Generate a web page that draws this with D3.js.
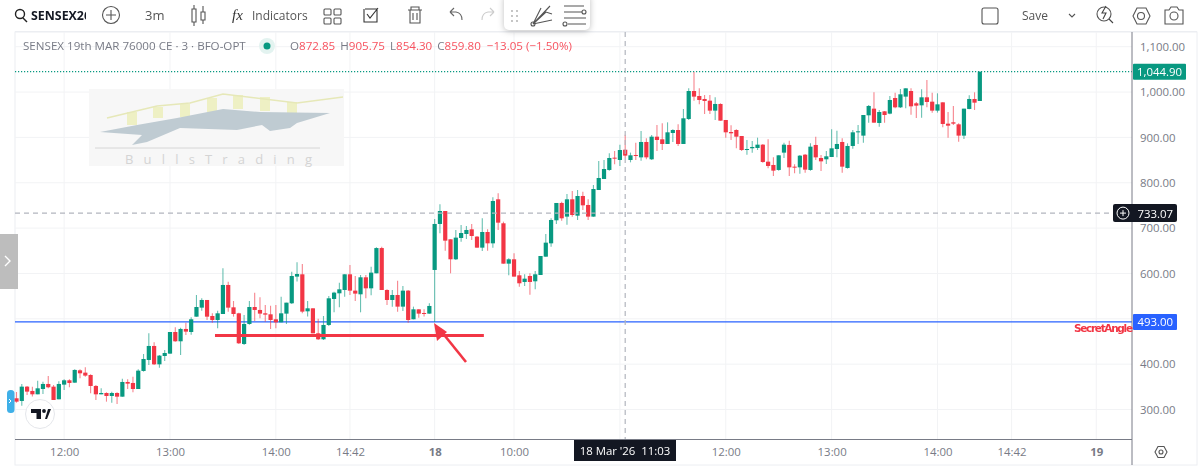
<!DOCTYPE html>
<html>
<head>
<meta charset="utf-8">
<style>
  html, body { margin: 0; padding: 0; background: #fff; }
  svg { display: block; font-family: "Open Sans", sans-serif; filter: blur(0.3px); }
  .tick line { stroke: none; }
  .axis path { display: none; }
  .axis text { fill: #787b86; font-size: 11.4px; font-family: "Open Sans", sans-serif; }
</style>
</head>
<body>
<svg id="chart" width="1200" height="473"></svg>
<script src="https://cdn.jsdelivr.net/npm/d3@7"></script>
<script>
const opens = [324.7,318.8,350.4,340.9,333.5,345.2,356.3,350.4,322.5,354.8,364.4,359.2,386.4,381.3,376.1,351.9,333.5,336.4,329.8,336.4,328.3,360.7,358.5,345.2,385,409.2,440.1,399.6,418,423.2,470.9,450.4,477.6,470.9,504.7,524.6,541.5,506.2,497.4,510.6,574.6,
  525.3,512.1,444.5,488.6,526,519.5,512.1,509.9,498.9,492.2,511.4,534.2,593,598.1,516.5,523.1,468,454.8,486.4,543.7,556.2,563.5,598.1,562.1,554,591.5,567.2,600.3,656,563.5,541.5,552.5,526.8,562.1,498.9,520.9,512.8,511.4,
  607.7,709.1,737.7,675.3,631.2,678.2,687,697.3,681.2,656.9,691.4,666.4,763.5,710.6,621.6,631.2,595.9,581.2,594.4,582.7,596.6,637,666.4,717.2,755.4,725.3,763.5,727.4,770.8,751,725.3,
  784,808.3,828.2,855.3,850.2,872.85,850.2,861.2,856,889.9,851.7,901.6,895.8,885.5,909.7,916.3,885.5,940.6,1002.3,991.3,984.7,981,959,973.7,938.4,911.9,916.3,903.1,872.2,876,876.7,884,846.5,839.2,828.2,866.4,
  883.3,835.5,834,861.9,828.2,883.3,854.6,851.7,856.8,874.4,889.9,832.6,881.1,911.2,903.9,948.7,963.4,931.8,957.5,952.4,986.9,966.3,989.9,1002.3,975.2,970.7,988.4,978.8,959,977.3,930.3,933.3,928.8,903.9,962.7,984.7,980.3]
const highs = [338.6,356.3,351.9,350.4,363.6,361.4,373.9,354,362.2,366.6,366.6,388.6,388.6,393,377.6,354,346.7,337.9,339.4,337.9,368,366.6,372.4,388.6,422.4,468,448.2,420.2,431.3,470.9,481.2,480.5,491.5,503.3,552.5,545.2,541.5,512.1,518,611.3,581.9,
  539.3,513.6,508.4,539.3,557.7,547.4,530.5,529,530.5,548.8,535.6,604,624.6,620.9,539.3,523.1,500.3,506.2,550.3,559.9,579.7,598.1,618.7,594.4,596.6,596.6,615,658,659,565,563.5,584.1,572.4,563.5,526.8,520.9,520.9,534.2,
  720.1,752.4,737.7,675.3,695.9,706.9,704.7,709.1,682.6,721.6,697.3,767.9,776.7,714.2,633.4,644.4,605.4,598.1,600.3,605.4,638.5,687,721.6,755.4,758.3,775.2,781.8,784,780.4,763.5,795,
  848,850.2,864.9,870,884,905.75,866.4,888.4,914.1,898,905.3,927.4,931,933.2,917.8,928.8,962.7,1008.2,1044,1008.2,993.5,993.5,988.4,975.2,938.4,926.6,917.8,903.1,894.3,892.1,899.4,885.5,895.8,856,860.5,888.4,
  892.8,840.6,861.2,863.4,886.9,901.6,861.2,870,917.8,914.9,898,886.9,916.3,927.4,949.4,971.5,999.4,960.5,958.2,991.3,998.7,1006.8,1008.2,1008.2,978.1,1006,1026.6,998.7,997.2,977.3,956,969.3,931,963.4,992.8,999.4,1044.9]
const lows = [315,308.5,332,328.4,333.5,334.2,346.7,321,322.5,343,349,359.2,368.8,372.4,335.7,321,333.5,317.3,315.1,312.2,328.3,345.2,337.9,345.2,383.5,398.2,398.2,392.3,407,423.2,449.6,420.2,464.3,465,504.7,518,497.4,491.5,479,510.6,515.8,
  504.8,444.5,442.3,487.1,495.2,501,493.7,477.6,479,492.2,488.6,532.7,582,512.1,504.8,468,453.3,453.3,484.2,514.3,525.3,548.8,552.5,539.3,514.3,545.2,551.8,600.3,563.5,530.5,526.8,515.8,517.2,491.5,498.9,502.5,504.8,511.4,
  493,688.5,650.3,600.3,629.7,670.1,676,673.8,656.9,649.5,650.3,656.9,695.9,621.6,595.9,593,570.9,572.4,553.3,565,596.6,637,659.1,709.1,716.4,707.6,725.3,717.9,740,717.9,725.3,
  784,808.3,826.7,840.6,837,854.3,845,850.2,848.7,851.7,850.2,870,872.2,885.5,889.9,881.1,885.5,938.4,981,972.9,951.6,951.6,938.4,936.9,899.4,894.3,875.9,870,862,866.4,872.2,844.3,831.8,814.9,826.7,854.6,
  814.9,820.8,820.1,822.3,826.7,850.2,826,841.4,856.8,856,822.3,831.1,875.2,885.5,888.4,932.5,932.5,923.7,932.5,950.9,964.1,964.9,964.1,950.2,942.8,943.5,966.3,954.6,954.6,922.2,899.4,927.4,890.6,896.5,961.9,960.5,980.3]
const closes = [317.3,350.4,339.4,333.5,346.7,356.3,349,321,356.3,364.4,358.5,387.2,379.8,374.7,351.9,333.5,336.4,329.8,336.4,328.3,360.7,357,345.2,385.7,411.4,440.1,399.6,418.8,424.6,470.9,450.4,477.6,471.7,498.9,526,541.5,504.7,497.4,512.1,574.6,524.6,
  510.6,446,488.6,526,519.5,511.4,509.2,497.4,492.2,512.1,535.6,594.4,598.8,515.8,523.1,468,454.8,486.4,545.2,557.7,565,598.1,562.1,555.5,591.5,567.2,601.8,656,563.5,541.5,552.5,526.8,562.1,497.4,520.9,511.4,510.6,528.3,
  709.1,737.7,672.3,631.2,679,689.2,695.9,682.6,656.9,691.4,666.4,759.8,712,621.6,631.2,593,578.3,588.5,581.2,598.1,638.5,667.9,717.9,755.4,721.6,763.5,728.9,770.8,750.2,725.3,786.2,
  810.5,830.3,854.6,853.1,872.2,859.8,860.5,859,889.9,856,901.6,894.3,885.5,911.2,916.3,885.5,942.1,1002.3,989.9,982.5,980.3,959,973.7,936.9,911.2,909,901.6,872.2,874.4,878.9,884,845.8,837,826.7,860.5,884,
  834,833.3,859.7,828.9,879.6,856,847.2,858.3,875.9,885.5,835.5,881.1,911.2,913.4,949.4,969.3,932.5,956,949.4,982.5,966.3,995,1008.2,968.5,970,988.4,978.1,959,972.9,929.6,925.9,930.3,903.9,963.4,984.7,976.6,1044.9]

const gridPrices = [1100, 1000, 900, 800, 700, 600, 500, 400, 300]
// 500.00 sits under the 493 tag in the reference, so it gets no label
const priceTicks = [1100, 1000, 900, 800, 700, 600, 400, 300]
const timeTickIndex = [9, 29, 49, 63, 79, 94, 114, 134, 154, 174, 188, 204]
const timeTickLabels = ['12:00', '13:00', '14:00', '14:42', '18', '10:00', '', '12:00', '13:00', '14:00', '14:42', '19']
const lastPrice = 1044.9
const crossPrice = 733.07
const levelPrice = 493
const crossIndex = 115
const annotLinePrice = 463
const annotLineIndex = [37.5, 88.3]

const green = '#089981'
const red = '#f23645'

const paneLeft = 15
const paneRight = 1132
const paneTop = 32
const paneBottom = 439.5

const x = d3.scaleLinear().domain([0, 204]).range([16.5, 16.5 + 5.293 * 204])
const y = d3.scaleLinear().domain([1100, 300]).range([46.7, 409.5])

const svg = d3.select('#chart')

// frame
svg.append('rect').attr('x', paneLeft).attr('y', paneTop).attr('width', 1197 - paneLeft).attr('height', 465 - paneTop)
  .attr('fill', '#fff').attr('stroke', '#eceef2')

// grid
const grid = svg.append('g').attr('stroke', '#f2f3f5')
grid.selectAll('.h').data(gridPrices).join('line')
  .attr('x1', paneLeft).attr('x2', paneRight).attr('y1', d => y(d)).attr('y2', d => y(d))
grid.selectAll('.v').data(timeTickIndex).join('line')
  .attr('x1', d => x(d)).attr('x2', d => x(d)).attr('y1', paneTop).attr('y2', paneBottom)

// watermark
const wm = svg.append('g')
wm.append('rect').attr('x', 89).attr('y', 89).attr('width', 255).attr('height', 77).attr('fill', '#f7f7f7')
const wmBars = [[127, 112, 125], [153, 107, 118], [180, 104, 117], [207, 98, 112], [233, 95, 109], [260, 97, 111], [287, 102, 114]]
wm.selectAll('.bar').data(wmBars).join('rect')
  .attr('x', d => d[0]).attr('y', d => d[1]).attr('width', 10).attr('height', d => d[2] - d[1]).attr('fill', '#eef0c4')
wm.append('path').attr('d', 'M107 118 L157 106 L190 103 L223 94 L297 103 L343 97').attr('fill', 'none').attr('stroke', '#e6e8b8').attr('stroke-width', 1.6)
wm.append('path').attr('d', 'M100 132 L137 125 L177 118 L223 109 L260 112 L330 113 L297 123 L290 128 L270 131 L262 125 L237 130 L180 128 L147 142 L132 145 L142 135 Z').attr('fill', '#bfcbd2')
wm.append('line').attr('x1', 95).attr('x2', 320).attr('y1', 148).attr('y2', 148).attr('stroke', '#d6d6d6')
wm.append('text').attr('x', 125).attr('y', 164).attr('font-size', 13).attr('textLength', 187).attr('fill', '#d4d4d4').text('BullsTrading')

// level lines
svg.append('line').attr('x1', paneLeft).attr('x2', paneRight).attr('y1', y(lastPrice)).attr('y2', y(lastPrice))
  .attr('stroke', green).attr('stroke-width', 1.2).attr('stroke-dasharray', '1.2 1.8')
svg.append('line').attr('x1', paneLeft).attr('x2', paneRight).attr('y1', y(levelPrice)).attr('y2', y(levelPrice))
  .attr('stroke', '#2962ff').attr('stroke-width', 1.2)

// candles
const candles = svg.append('g')
candles.selectAll('.wick').data(d3.range(opens.length)).join('line')
  .attr('x1', i => x(i)).attr('x2', i => x(i))
  .attr('y1', i => y(highs[i])).attr('y2', i => y(lows[i]))
  .attr('stroke', i => closes[i] >= opens[i] ? green : red)
  .attr('stroke-width', 1.1).attr('opacity', 0.6)
candles.selectAll('.body').data(d3.range(opens.length)).join('rect')
  .attr('x', i => x(i) - 2.1).attr('width', 4.2)
  .attr('y', i => y(Math.max(opens[i], closes[i])))
  .attr('height', i => Math.max(1, Math.abs(y(opens[i]) - y(closes[i]))))
  .attr('fill', i => closes[i] >= opens[i] ? green : red)

// crosshair
const cross = svg.append('g').attr('stroke', '#b2b5be').attr('stroke-width', 1.2).attr('stroke-dasharray', '5 4')
cross.append('line').attr('x1', x(crossIndex)).attr('x2', x(crossIndex)).attr('y1', paneTop).attr('y2', paneBottom)
cross.append('line').attr('x1', paneLeft).attr('x2', 1114).attr('y1', y(crossPrice)).attr('y2', y(crossPrice))

// hand drawn red marks
svg.append('line').attr('x1', x(annotLineIndex[0])).attr('x2', x(annotLineIndex[1])).attr('y1', y(annotLinePrice)).attr('y2', y(annotLinePrice))
  .attr('stroke', red).attr('stroke-width', 3)
svg.append('line').attr('x1', 466).attr('y1', 362).attr('x2', 441).attr('y2', 331).attr('stroke', red).attr('stroke-width', 2.6)
svg.append('path').attr('d', 'M434 323 L447 332 L437 341 Z').attr('fill', red)

// axes
svg.append('g').attr('class', 'axis').attr('transform', `translate(${paneRight},0)`)
  .call(d3.axisRight(y).tickValues(priceTicks).tickSize(0).tickPadding(8).tickFormat(d3.format(',.2f')))
svg.append('g').attr('class', 'axis').attr('transform', `translate(0,${paneBottom})`)
  .call(d3.axisBottom(x).tickValues(timeTickIndex).tickSize(0).tickPadding(8).tickFormat((d, i) => timeTickLabels[i]))
  .selectAll('text').attr('font-weight', (d, i) => timeTickLabels[i] === '18' || timeTickLabels[i] === '19' ? 700 : 400)
svg.append('line').attr('x1', paneRight).attr('x2', paneRight).attr('y1', paneTop).attr('y2', 465).attr('stroke', '#787b86')
svg.append('line').attr('x1', paneLeft).attr('x2', paneRight).attr('y1', paneBottom).attr('y2', paneBottom).attr('stroke', '#787b86').attr('stroke-width', 1.2)

// price tags
function priceTag (px, value, fill, left, right) {
  svg.append('rect').attr('x', left).attr('y', y(px) - 8).attr('width', right - left).attr('height', 16).attr('rx', 1).attr('fill', fill)
  svg.append('text').attr('x', right - 4).attr('y', y(px) + 4).attr('text-anchor', 'end').attr('font-size', 11.4).attr('fill', '#fff').text(value)
}
priceTag(lastPrice, d3.format(',.2f')(lastPrice), green, 1133, 1186)
priceTag(levelPrice, d3.format(',.2f')(levelPrice), '#2962ff', 1133, 1177)
svg.append('rect').attr('x', 1113).attr('y', y(crossPrice) - 9).attr('width', 64).attr('height', 18).attr('rx', 2).attr('fill', '#131722')
svg.append('text').attr('x', 1173).attr('y', y(crossPrice) + 4.5).attr('text-anchor', 'end').attr('font-size', 11.4).attr('fill', '#fff').text(crossPrice.toFixed(2))
svg.append('circle').attr('cx', 1123).attr('cy', y(crossPrice)).attr('r', 6).attr('fill', 'none').attr('stroke', '#fff')
svg.append('path').attr('d', `M1120 ${y(crossPrice)} h6 M1123 ${y(crossPrice) - 3} v6`).attr('stroke', '#fff')
svg.append('text').attr('x', 1074).attr('y', 332).attr('font-size', 10.5).attr('font-weight', 700).attr('fill', red).attr('font-family', 'DejaVu Sans').attr('textLength', 59).text('SecretAngle')

// time tag
svg.append('rect').attr('x', 574).attr('y', 440).attr('width', 102).attr('height', 21).attr('fill', '#131722')
svg.append('text').attr('x', 625).attr('y', 455).attr('text-anchor', 'middle').attr('font-size', 11.4).attr('fill', '#fff').style('white-space', 'pre').text("18 Mar '26  11:03")

// legend row
const legend = svg.append('text').attr('x', 23).attr('y', 50).attr('font-size', 11.6)
legend.append('tspan').attr('fill', '#787b86').text('SENSEX 19th MAR 76000 CE · 3 · BFO-OPT')
svg.append('circle').attr('cx', 267).attr('cy', 46).attr('r', 8).attr('fill', '#e3f3f0')
svg.append('circle').attr('cx', 267).attr('cy', 46).attr('r', 3.5).attr('fill', green)
const ohlc = svg.append('text').attr('x', 290).attr('y', 50).attr('font-size', 11.6)
const ohlcParts = [['O', '872.85'], ['H', '905.75'], ['L', '854.30'], ['C', '859.80']]
ohlcParts.forEach((p, i) => {
  ohlc.append('tspan').attr('fill', '#787b86').attr('dx', i ? 5 : 0).text(p[0])
  ohlc.append('tspan').attr('fill', '#f7525f').text(p[1])
})
ohlc.append('tspan').attr('fill', '#f7525f').attr('dx', 6).text('−13.05 (−1.50%)')

// top toolbar
svg.append('line').attr('x1', paneLeft).attr('x2', 1197).attr('y1', 31.5).attr('y2', 31.5).attr('stroke', '#eceef2')
const bar = svg.append('g').attr('fill', 'none').attr('stroke', '#555').attr('stroke-width', 1.1)
bar.append('circle').attr('cx', 20).attr('cy', 14).attr('r', 4.5).attr('stroke', '#222').attr('stroke-width', 1.4)
bar.append('path').attr('d', 'M23 18 L27 22').attr('stroke', '#222').attr('stroke-width', 1.4)
svg.append('clipPath').attr('id', 'symClip').append('rect').attr('x', 30).attr('y', 0).attr('width', 56).attr('height', 30)
svg.append('text').attr('x', 31).attr('y', 20).attr('font-size', 12.4).attr('font-weight', 700).attr('fill', '#131722').attr('clip-path', 'url(#symClip)').text('SENSEX26')
bar.append('circle').attr('cx', 111).attr('cy', 15).attr('r', 8.5)
bar.append('path').attr('d', 'M106 15 h10 M111 10 v10')
svg.append('text').attr('x', 145).attr('y', 20).attr('font-size', 13).attr('fill', '#555').text('3m')
bar.append('path').attr('d', 'M192 9 h4 v13 h-4 Z M194 5 v4 M194 22 v4 M201 12 h4 v8 h-4 Z M203 6 v6 M203 20 v4')
svg.append('text').attr('x', 232).attr('y', 20).attr('font-size', 15).attr('font-style', 'italic').attr('font-family', 'Liberation Serif').attr('fill', '#333').text('fx')
svg.append('text').attr('x', 252).attr('y', 20).attr('font-size', 12).attr('fill', '#555').text('Indicators')
bar.selectAll('.sq').data([[324, 9], [334, 9], [324, 18], [334, 18]]).join('rect')
  .attr('x', d => d[0]).attr('y', d => d[1]).attr('width', 7).attr('height', 6).attr('rx', 1)
bar.append('path').attr('d', 'M365 9 h12 v13 h-13 v-13 M367 14 l3 4 l8 -10').attr('stroke', '#333')
bar.append('path').attr('d', 'M408 10 h14 M411 10 v-3 h8 v3 M410 10 v13 h10 v-13 M413 13 v7 M417 13 v7')
bar.append('path').attr('d', 'M450 12 h6 q6 1 6 8 M450 12 l4 -4 M450 12 l4 4').attr('stroke', '#666')
bar.append('path').attr('d', 'M494 12 h-6 q-6 1 -6 8 M494 12 l-4 -4 M494 12 l-4 4').attr('stroke', '#ccc')

// floating drawing toolbar
svg.append('rect').attr('x', 504).attr('y', -6).attr('width', 86).attr('height', 36).attr('rx', 5).attr('fill', '#fff')
  .style('filter', 'drop-shadow(0 1px 3px rgba(0,0,0,0.25))')
const draw = svg.append('g').attr('fill', 'none').attr('stroke', '#555').attr('stroke-width', 1.1)
svg.append('g').attr('fill', '#aaa').selectAll('circle').data([[512, 11], [517, 11], [512, 16], [517, 16], [512, 21], [517, 21]]).join('circle')
  .attr('cx', d => d[0]).attr('cy', d => d[1]).attr('r', 0.9)
draw.append('path').attr('d', 'M533 24 L550 6 M533 24 L546 12 L552 14 M533 24 L541 8 M533 24 L552 20')
draw.append('circle').attr('cx', 533).attr('cy', 24).attr('r', 2)
draw.append('path').attr('d', 'M564 6 h20 M564 12 h18 M564 18 h22 M568 24 h18')
draw.append('circle').attr('cx', 584).attr('cy', 12).attr('r', 2)
draw.append('circle').attr('cx', 565).attr('cy', 24).attr('r', 2)

// right side of the toolbar
const right = svg.append('g').attr('fill', 'none').attr('stroke', '#555').attr('stroke-width', 1.1)
right.append('rect').attr('x', 982).attr('y', 8).attr('width', 16).attr('height', 16).attr('rx', 2)
svg.append('text').attr('x', 1022).attr('y', 20).attr('font-size', 12).attr('fill', '#555').text('Save')
right.append('path').attr('d', 'M1069 14 l3 3 l3 -3')
right.append('circle').attr('cx', 1104).attr('cy', 14).attr('r', 7)
right.append('path').attr('d', 'M1109 19 l4 4 M1106 6 l-4 7 h4 l-3 6').attr('stroke', '#444')
right.append('path').attr('d', 'M1133 16 l4 -8 h9 l4 8 l-4 8 h-9 Z')
right.append('circle').attr('cx', 1141).attr('cy', 16).attr('r', 3.5)
right.append('path').attr('d', 'M1165 10 h4 l2 -3 h6 l2 3 h4 v14 h-18 Z')
right.append('circle').attr('cx', 1174).attr('cy', 16).attr('r', 4)

// side tabs and logo
svg.append('rect').attr('x', 0).attr('y', 234).attr('width', 18).attr('height', 55).attr('fill', '#bdbdbd')
svg.append('path').attr('d', 'M5 256 l5 5 l-5 5').attr('fill', 'none').attr('stroke', '#fff').attr('stroke-width', 1.4)
svg.append('rect').attr('x', 7).attr('y', 390).attr('width', 7.5).attr('height', 23).attr('rx', 3.5).attr('fill', '#3fb0e8')
svg.append('path').attr('d', 'M9 399 l2 2 l-2 2').attr('fill', 'none').attr('stroke', '#fff')
svg.append('circle').attr('cx', 40).attr('cy', 414).attr('r', 14.5).attr('fill', '#fff').attr('stroke', '#e4e6ea')
svg.append('path').attr('d', 'M31 409 h10 v10 h-4.5 v-6 h-5.5 Z M45 419 l3 -10 h3 l-4 10 Z').attr('fill', '#131722')
svg.append('circle').attr('cx', 44).attr('cy', 411).attr('r', 1.9).attr('fill', '#131722')

// gear
const gear = svg.append('g').attr('fill', 'none').attr('stroke', '#555').attr('stroke-width', 1.1)
gear.append('path').attr('d', 'M1155 452 l3 -5.5 h6 l3 5.5 l-3 5.5 h-6 Z')
gear.append('circle').attr('cx', 1161).attr('cy', 452).attr('r', 2)
</script>
</body>
</html>
